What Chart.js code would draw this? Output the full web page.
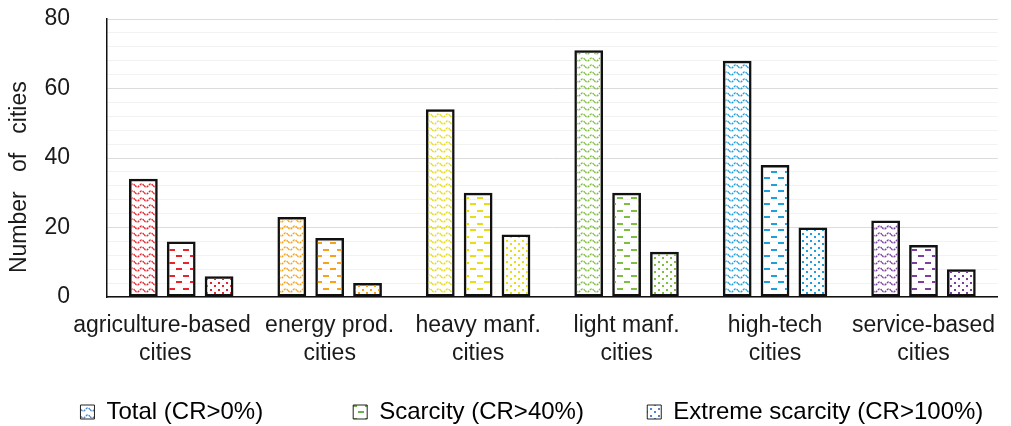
<!DOCTYPE html>
<html>
<head>
<meta charset="utf-8">
<script src="https://cdn.jsdelivr.net/npm/chart.js@4/dist/chart.umd.min.js"></script>
<style>
  html, body { margin: 0; padding: 0; background: #fff; }
  canvas { display: block; }
</style>
</head>
<body>
<canvas id="chart" width="1011" height="426"></canvas>
<script>
// data
const categories = [
    ['agriculture-based      ', 'cities     '],
    ['energy prod.', 'cities'],
    ['heavy manf.', 'cities'],
    ['light manf.', 'cities'],
    ['high-tech', 'cities'],
    ['service-based', 'cities']
];
const totalCities = [34, 23, 54, 71, 68, 22];
const scarcityCities = [16, 17, 30, 30, 38, 15];
const extremeCities = [6, 4, 18, 13, 20, 8];
const yTicks = [0, 20, 40, 60, 80];
const seriesNames = ['Total (CR>0%)', 'Scarcity (CR>40%)', 'Extreme scarcity (CR>100%)'];

// one colour per city type
const catColors = ['#e8232b', '#f5a31a', '#e6dc1a', '#7fbf3f', '#1fa0de', '#7b3f9e'];
const legendColors = ['#4a86d0', '#6ab04c', '#4a86d0'];

// hatch patterns
function wavePattern(color) {
    const c = document.createElement('canvas');
    c.width = 9; c.height = 7;
    const g = c.getContext('2d');
    g.strokeStyle = color;
    g.lineWidth = 1.4;
    g.setLineDash([2.2, 1]);
    g.beginPath();
    for (let x = 0; x <= 9; x += 0.5) {
        const y = 3.5 + 1.7 * Math.sin(2 * Math.PI * x / 9);
        if (x === 0) g.moveTo(x, y); else g.lineTo(x, y);
    }
    g.stroke();
    return g.createPattern(c, 'repeat');
}

function dashPattern(color) {
    const c = document.createElement('canvas');
    c.width = 14; c.height = 13;
    const g = c.getContext('2d');
    g.fillStyle = color;
    g.fillRect(1, 2, 6, 2);
    g.fillRect(8, 8, 6, 2);
    return g.createPattern(c, 'repeat');
}

function dotPattern(color) {
    const c = document.createElement('canvas');
    c.width = 8; c.height = 7;
    const g = c.getContext('2d');
    g.fillStyle = color;
    g.fillRect(2, 2, 2, 2);
    g.fillRect(6, 5, 2, 2);
    return g.createPattern(c, 'repeat');
}

const makers = [wavePattern, dashPattern, dotPattern];
const seriesData = [totalCities, scarcityCities, extremeCities];
// trailing spaces in the legend mimic the uneven gaps of the original
const legendTails = ['            ', '        ', ' '];

const font = { family: '"Liberation Sans", Arial, sans-serif', size: 23 };
const legendFont = { family: '"Liberation Sans", Arial, sans-serif', size: 24 };

new Chart(document.getElementById('chart'), {
    type: 'bar',
    data: {
        labels: categories,
        datasets: seriesData.map((d, i) => ({
            label: seriesNames[i],
            data: d,
            backgroundColor: catColors.map(c => makers[i](c)),
            borderColor: '#111',
            borderWidth: 2.5,
            borderSkipped: false,
            categoryPercentage: 0.765,
            barPercentage: 0.76
        }))
    },
    options: {
        responsive: false,
        animation: false,
        layout: { padding: { top: 19, right: 11, left: 0, bottom: -8 } },
        plugins: {
            tooltip: { enabled: false },
            legend: {
                position: 'bottom',
                align: 'end',
                labels: {
                    font: legendFont,
                    color: '#1a1a1a',
                    boxWidth: 14,
                    boxHeight: 14,
                    padding: 10,
                    generateLabels: () => seriesNames.map((name, i) => ({
                        text: name + legendTails[i],
                        fillStyle: makers[i](legendColors[i]),
                        strokeStyle: '#222',
                        lineWidth: 1,
                        hidden: false,
                        datasetIndex: i
                    }))
                }
            }
        },
        scales: {
            x: {
                grid: { display: false, drawTicks: false },
                border: { color: '#111', width: 1.5 },
                ticks: { font: font, color: '#1a1a1a', padding: 15, maxRotation: 0, autoSkip: false },
                afterFit: s => { s.height = 93; }
            },
            y: {
                min: 0,
                max: 80,
                afterFit: s => { s.width = 107; },
                border: { color: '#111', width: 1.5 },
                grid: {
                    drawTicks: true,
                    tickLength: 35,
                    tickColor: 'rgba(0,0,0,0)',
                    color: c => (c.tick && c.tick.value % 20 === 0) ? '#dcdcdc' : '#f2f2f2'
                },
                ticks: {
                    stepSize: 4,
                    autoSkip: false,
                    padding: 2,
                    font: font,
                    color: '#1a1a1a',
                    callback: v => yTicks.includes(v) ? v : ''
                },
                title: {
                    display: true,
                    text: 'Number   of   cities      ',
                    font: font,
                    color: '#1a1a1a',
                    padding: { top: 6, bottom: 0 }
                }
            }
        }
    }
});
</script>
</body>
</html>
